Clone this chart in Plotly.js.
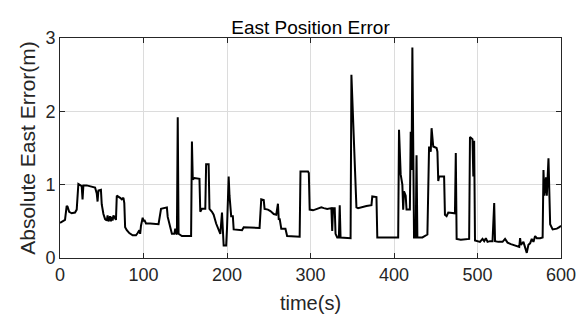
<!DOCTYPE html>
<html>
<head>
<meta charset="utf-8">
<script src="https://cdn.plot.ly/plotly-3.0.1.min.js"></script>
<style>html,body{margin:0;padding:0;background:#fff;}#chart{width:587px;height:325px;}</style>
</head>
<body>
<div id="chart"></div>
<script>
// time (s)
var timeSec = [0,3,6,8,9,11,14,18,20,22,24,26,27,28,32,36,40,42,44,45,46,49,50,52,54,56,57,58,60,61,62,63,64,66,67,68,70,72,74,76,77,78,80,83,87,91,93,95,96,97,99,100,101,103,108,114,118,121,124,128,129,131,134,137,138,139,140,141,142,146,150,157,158,159,161,167,168,170,174,175,178,179,182,184,187,190,192,194,195,196,199,200,202,203,205,207,208,213,218,220,225,239,241,244,245,249,252,256,259,261,262,263,265,270,272,280,287,288,297,298,299,303,308,313,316,320,325,326,327,329,330,332,334,335,336,342,348,349,351,353,355,357,362,367,373,374,379,380,390,405,406,408,410,411,412,414,415,419,420,421,422,423,424,426,427,428,434,440,442,444,445,447,451,452,453,454,460,461,463,465,473,474,475,480,490,491,494,495,496,497,500,503,506,508,510,512,515,518,520,521,525,530,533,536,540,545,550,551,552,555,557,559,561,563,565,567,569,571,575,578,579,580,582,583,585,586,587,590,595,598,600];
// absolute east error (m)
var eastError = [0.48,0.50,0.52,0.71,0.70,0.63,0.61,0.62,0.66,1.01,0.99,0.98,0.80,0.99,0.99,0.98,0.97,0.96,0.88,0.77,0.92,0.93,0.73,0.60,0.53,0.51,0.58,0.50,0.57,0.50,0.56,0.51,0.58,0.53,0.52,0.85,0.84,0.82,0.80,0.82,0.75,0.42,0.38,0.34,0.31,0.31,0.34,0.38,0.33,0.44,0.55,0.50,0.52,0.47,0.47,0.47,0.46,0.67,0.68,0.69,0.56,0.47,0.33,0.33,0.40,0.35,0.32,1.92,0.33,0.30,0.30,0.30,1.59,1.07,1.09,1.08,0.63,0.67,0.67,1.28,1.28,0.67,0.63,0.59,0.47,0.37,0.33,0.62,0.30,0.17,0.17,0.40,1.11,0.85,0.57,0.57,0.39,0.38,0.38,0.42,0.42,0.41,0.80,0.79,0.67,0.66,0.64,0.60,0.59,0.74,0.52,0.54,0.40,0.40,0.30,0.29,0.29,1.18,1.18,1.16,0.66,0.65,0.67,0.69,0.68,0.67,0.68,0.37,0.68,0.68,0.33,0.28,0.28,0.72,0.28,0.27,0.27,2.50,1.95,1.30,0.69,0.68,0.70,0.71,0.72,0.84,0.83,0.28,0.28,0.28,1.75,1.14,1.00,0.66,0.91,0.85,0.66,0.66,1.72,1.20,2.87,1.60,0.28,0.28,1.40,0.28,0.28,0.32,1.52,1.45,1.77,1.52,1.50,1.45,1.05,1.11,1.11,0.59,0.57,0.62,0.61,1.43,0.26,0.25,0.26,1.65,1.62,1.11,1.60,0.24,0.23,0.22,0.26,0.23,0.27,0.22,0.23,0.23,0.75,0.23,0.22,0.22,0.26,0.21,0.19,0.17,0.15,0.27,0.18,0.22,0.15,0.07,0.18,0.20,0.26,0.22,0.30,0.27,0.27,0.28,1.20,0.85,1.10,0.85,1.36,0.70,0.46,0.39,0.40,0.42,0.44];
var xTicks = [0,100,200,300,400,500,600];
var yTicks = [0,1,2,3];

var FONT = '"Liberation Sans", Arial, Helvetica, sans-serif';
var axisCommon = {
  showline: true, mirror: 'ticks', linecolor: '#262626', linewidth: 1,
  ticks: 'inside', ticklen: 5, tickcolor: '#262626', tickwidth: 1,
  showgrid: true, gridcolor: '#dcdcdc', gridwidth: 1, zeroline: false,
  tickfont: {family: FONT, size: 18, color: '#262626'}
};
var layout = {
  width: 587, height: 325,
  margin: {l: 60, r: 26, t: 38, b: 67},
  paper_bgcolor: '#fff', plot_bgcolor: '#fff',
  showlegend: false,
  title: {text: 'East Position Error', font: {family: FONT, size: 19, color: '#000'},
          x: 0.529, xanchor: 'center', y: 0.915, yanchor: 'middle', yref: 'container'},
  xaxis: Object.assign({}, axisCommon, {
    range: [0, 600], tickvals: xTicks, ticktext: xTicks.map(String),
    title: {text: 'time(s)', font: {family: FONT, size: 20, color: '#262626'}, standoff: 12}
  }),
  yaxis: Object.assign({}, axisCommon, {
    range: [0, 3], tickvals: yTicks, ticktext: yTicks.map(String),
    title: {text: 'Absolute East Error(m)', font: {family: FONT, size: 21, color: '#262626'}, standoff: 4}
  })
};
Plotly.newPlot('chart', [{
  x: timeSec, y: eastError, type: 'scatter', mode: 'lines',
  line: {color: '#000', width: 2}
}], layout, {staticPlot: true, displayModeBar: false});
</script>
</body>
</html>
